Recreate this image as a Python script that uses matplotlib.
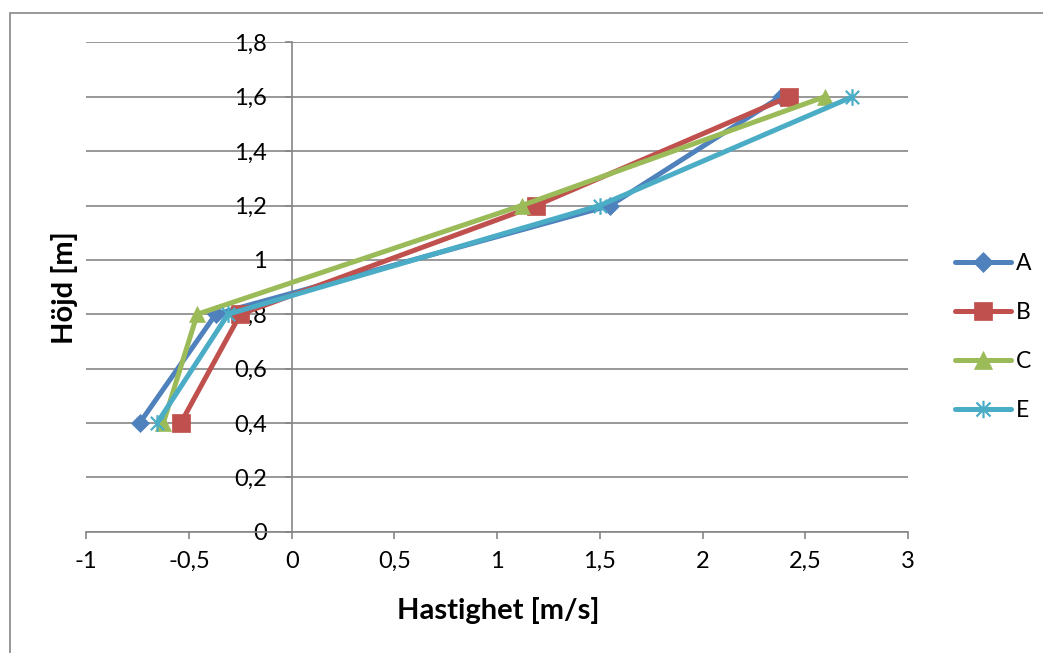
import matplotlib
matplotlib.use("Agg")
import matplotlib.pyplot as plt
from matplotlib.path import Path
from matplotlib.patches import Rectangle
from matplotlib.ticker import FixedLocator, FixedFormatter

heights = [0.4, 0.8, 1.2, 1.6]
series_names = ["A", "B", "C", "E"]
A = [-0.74, -0.37, 1.55, 2.38]
B = [-0.54, -0.25, 1.19, 2.42]
C = [-0.625, -0.46, 1.12, 2.595]
E = [-0.655, -0.31, 1.50, 2.73]
x_ticks = [-1, -0.5, 0, 0.5, 1, 1.5, 2, 2.5, 3]
x_tick_labels = ["-1", "-0,5", "0", "0,5", "1", "1,5", "2", "2,5", "3"]
y_ticks = [0, 0.2, 0.4, 0.6, 0.8, 1.0, 1.2, 1.4, 1.6, 1.8]
y_tick_labels = ["0", "0,2", "0,4", "0,6", "0,8", "1", "1,2", "1,4", "1,6", "1,8"]
x_label = "Hastighet [m/s]"
y_label = "Höjd [m]"

plt.rcParams['font.family'] = ['Lato', 'DejaVu Sans']

colors = ["#4F81BD", "#C0504D", "#9BBB59", "#4BACC6"]
star = Path([(0, -1), (0, 1), (-0.8, -0.8), (0.8, 0.8), (-0.8, 0.8), (0.8, -0.8)],
            [Path.MOVETO, Path.LINETO, Path.MOVETO, Path.LINETO, Path.MOVETO, Path.LINETO])
markers = ["D", "s", "^", star]
msizes = [9.5, 13, 12, 12]

W, H = 1043, 653
fig = plt.figure(figsize=(W / 100, H / 100), dpi=100)
ax = fig.add_axes([86.3 / W, 1 - 531.7 / H, 821.6 / W, 489.3 / H])

grid_col = "#868686"
for name, vals, c, m, ms in zip(series_names, [A, B, C, E], colors, markers, msizes):
    kw = dict(color=c, lw=3.6, marker=m, markersize=ms, markerfacecolor=c,
              markeredgecolor=c, label=name, zorder=3, solid_capstyle='round',
              solid_joinstyle='round')
    if m is star:
        kw['markeredgewidth'] = 1.6
    else:
        kw['markeredgewidth'] = 0.5
    ax.plot(vals, heights, **kw)

ax.set_xlim(-1, 3)
ax.set_ylim(0, 1.8)
ax.xaxis.set_major_locator(FixedLocator(x_ticks))
ax.xaxis.set_major_formatter(FixedFormatter(x_tick_labels))
ax.yaxis.set_major_locator(FixedLocator(y_ticks))
ax.yaxis.set_major_formatter(FixedFormatter(y_tick_labels))

for s in ['top', 'right']:
    ax.spines[s].set_visible(False)
ax.spines['left'].set_position(('data', 0))
ax.spines['left'].set_color(grid_col)
ax.spines['bottom'].set_color(grid_col)
ax.spines['left'].set_linewidth(1.2)
ax.spines['bottom'].set_linewidth(1.2)
ax.spines['left'].set_zorder(1)

ax.grid(axis='y', color=grid_col, lw=1.2, zorder=0)
ax.set_axisbelow(True)
ax.tick_params(axis='x', direction='out', length=5, width=1.2, color=grid_col,
               labelsize=17, pad=9)
ax.tick_params(axis='y', direction='out', length=5, width=1.2, color=grid_col,
               labelsize=17, pad=13)

fig.text(498 / W, 1 - 611 / H, x_label, fontsize=21, fontweight='bold',
         ha='center', va='center')
fig.text(64 / W, 1 - 288 / H, y_label, fontsize=21, fontweight='bold',
         ha='center', va='center', rotation=90)

leg = ax.legend(loc='center left', bbox_to_anchor=(955 / W, 1 - 337 / H),
                bbox_transform=fig.transFigure, frameon=False, fontsize=16.5,
                handlelength=2.45, handletextpad=0.2, labelspacing=1.22,
                borderpad=0, borderaxespad=0, markerscale=1.05)

fig.patches.append(Rectangle((10 / W, -0.1), 2, 1.1 - 13 / H, transform=fig.transFigure,
                             fill=False, edgecolor=grid_col, lw=1.2))

fig.savefig("out.png", dpi=100)
